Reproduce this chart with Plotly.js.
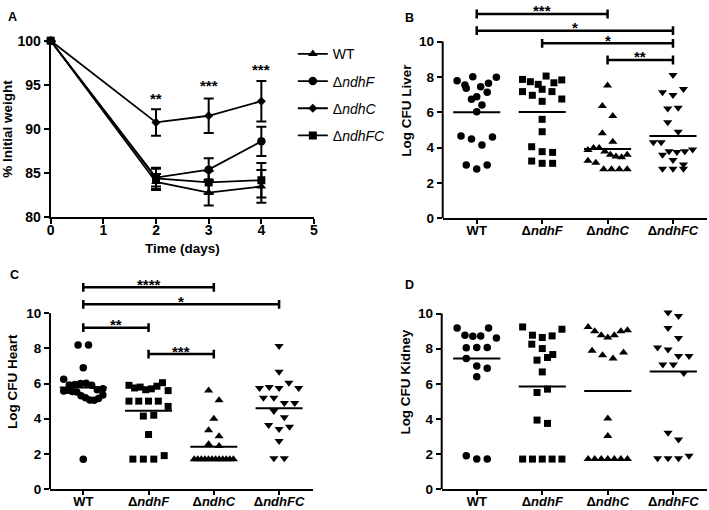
<!DOCTYPE html>
<html>
<head>
<meta charset="utf-8">
<script src="https://cdn.plot.ly/plotly-3.0.1.min.js"></script>
<style>html,body{margin:0;padding:0;background:#fff;}#chart{width:709px;height:510px;}</style>
</head>
<body>
<div id="chart"></div>
<script>
// ---------- DATA ----------
const categories = ['WT', 'ΔndhF', 'ΔndhC', 'ΔndhFC'];

// Panel A: % initial weight over time (mean ± SEM)
const days = [0, 2, 3, 4];
const weightWT = [100, 84.0, 82.8, 83.5];
const errWT = [0, 0.9, 1.45, 1.85];
const weightF = [100, 84.5, 85.4, 88.6];
const errF = [0, 1.0, 1.3, 1.65];
const weightC = [100, 90.75, 91.5, 93.15];
const errC = [0, 1.5, 1.95, 2.3];
const weightFC = [100, 84.4, 83.95, 84.2];
const errFC = [0, 1.2, 1.3, 1.95];
const starsA = ['**', '***', '***'];
const starsAday = [2, 3, 4];
const starsAy = [93.93, 95.36, 97.17];

// Panel B: Log CFU Liver
const liverWT = [7.79, 7.54, 7.36, 8.01, 7.45, 7.64, 7.98, 6.88, 6.73, 7.13, 6.41, 6.03, 4.66, 4.49, 4.15, 4.6, 3.02, 2.79, 3.02];
const liverF = [7.86, 7.73, 7.58, 8.05, 7.67, 7.83, 7.17, 6.96, 7.3, 7.17, 6.62, 6.75, 5.6, 4.9, 4.05, 3.77, 3.73, 3.24, 3.11, 3.11];
const liverC = [7.51, 6.36, 5.79, 4.81, 4.33, 3.87, 3.98, 3.98, 3.78, 3.59, 3.5, 3.46, 3.59, 3.25, 3.15, 2.77, 2.77, 2.77, 2.77];
const liverFC = [8.11, 7.13, 6.98, 7.32, 6.22, 6.26, 5.43, 4.9, 4.3, 4.3, 3.8, 3.75, 3.6, 3.8, 3.9, 3.3, 3.05, 2.8, 2.8, 2.8];
const liverMeans = [6.0, 6.02, 3.92, 4.66];
const liverBrackets = [[0, 2, 11.56, '***'], [0, 3, 10.62, '*'], [1, 3, 9.9, '*'], [2, 3, 8.96, '**']];

// Panel C: Log CFU Heart
const heartWT = [8.2, 8.2, 6.9, 6.24, 5.92, 5.95, 6.0, 6.02, 5.9, 5.58, 5.65, 5.7, 5.62, 5.55, 5.52, 5.31, 5.2, 5.07, 5.05, 5.15, 5.35, 1.7];
const heartF = [5.9, 5.75, 5.8, 5.65, 5.7, 5.85, 6.05, 5.6, 5.0, 5.0, 5.0, 5.0, 4.7, 4.15, 4.2, 3.1, 1.7, 1.7, 1.7, 1.9];
const heartC = [5.6, 5.05, 4.0, 3.35, 3.0, 2.55, 2.45, 1.7, 1.7, 1.7, 1.7, 1.7, 1.7, 1.7, 1.7, 1.7, 1.7, 1.7, 1.7];
const heartFC = [8.14, 6.68, 5.75, 5.8, 5.75, 6.05, 5.75, 5.2, 5.2, 4.9, 4.9, 4.44, 4.08, 3.64, 3.41, 3.55, 2.73, 1.75, 1.75];
const heartMeans = [5.77, 4.45, 2.41, 4.6];
const heartBrackets = [[0, 2, 11.48, '****'], [0, 3, 10.51, '*'], [0, 1, 9.18, '**'], [1, 2, 7.68, '***']];

// Panel D: Log CFU Kidney
const kidneyWT = [9.18, 8.77, 8.71, 8.73, 9.18, 8.61, 8.05, 8.07, 8.07, 7.44, 7.02, 6.89, 6.4, 1.91, 1.72, 1.72];
const kidneyF = [9.24, 8.77, 8.64, 8.73, 9.11, 8.26, 8.01, 7.67, 7.35, 7.5, 6.68, 5.51, 5.7, 3.94, 3.75, 1.72, 1.72, 1.72, 1.72, 1.72];
const kidneyC = [9.24, 9.0, 8.77, 8.64, 8.77, 9.0, 9.05, 7.88, 7.63, 7.44, 7.78, 4.03, 3.03, 1.72, 1.72, 1.72, 1.72, 1.72, 1.72, 1.72];
const kidneyFC = [10.06, 9.86, 9.18, 8.61, 8.07, 7.95, 7.59, 7.59, 7.1, 7.1, 6.62, 3.22, 2.84, 1.76, 1.76, 1.76, 1.91];
const kidneyMeans = [7.45, 5.85, 5.6, 6.7];

// ---------- STYLE ----------
const FONT = 'Liberation Sans, Arial, Helvetica, sans-serif';
const symbols = ['circle', 'square', 'triangle-up', 'triangle-down'];
const symSizes = [7.5, 7, 8, 8];

function tickLabel(c) {
  if (c.startsWith('Δ')) return '<b>Δ<i>' + c.slice(1) + '</i></b>';
  return '<b>' + c + '</b>';
}
function legendLabel(c) {
  if (c.startsWith('Δ')) return 'Δ<i>' + c.slice(1) + '</i>';
  return c;
}

// Prism-like column scatter: group close values into rows, centre each row
function swarm(vals, binH, dx, maxW) {
  const idx = vals.map((v, i) => i).sort((a, b) => vals[b] - vals[a]);
  const off = new Array(vals.length).fill(0);
  let i = 0;
  while (i < idx.length) {
    const start = vals[idx[i]];
    const row = [];
    while (i < idx.length && start - vals[idx[i]] <= binH) { row.push(idx[i]); i++; }
    row.sort((a, b) => a - b);
    const n = row.length;
    const sp = n > 1 ? Math.min(dx, maxW / (n - 1)) : 0;
    row.forEach((k, j) => { off[k] = (j - (n - 1) / 2) * sp; });
  }
  return off;
}

const traces = [];
const annotations = [];
const shapes = [];
const starFont = {family: FONT, size: 15, color: '#000'};

// Panel A
const aSeries = [
  [weightWT, errWT, 'triangle-up', 8.5],
  [weightF, errF, 'circle', 8.5],
  [weightC, errC, 'diamond', 7],
  [weightFC, errFC, 'square', 8]
];
aSeries.forEach((s, k) => {
  traces.push({
    type: 'scatter', mode: 'lines+markers', x: days, y: s[0],
    name: legendLabel(categories[k]), legendgroup: 'g' + k,
    xaxis: 'x', yaxis: 'y', cliponaxis: false,
    line: {color: '#000', width: 1.8},
    marker: {symbol: s[2], size: s[3], color: '#000'},
    error_y: {type: 'data', array: s[1], visible: true, color: '#000', thickness: 2, width: 5}
  });
});
starsA.forEach((t, k) => {
  annotations.push({xref: 'x', yref: 'y', x: starsAday[k], y: starsAy[k], text: '<b>' + t + '</b>',
    showarrow: false, yanchor: 'middle', yshift: -4, font: starFont});
});

// Dot panels
function dotPanel(groups, means, brackets, xa, ya) {
  groups.forEach((vals, k) => {
    const off = swarm(vals, 0.6, 0.16, 0.6);
    traces.push({
      type: 'scatter', mode: 'markers', x: vals.map((v, i) => k + off[i]), y: vals,
      xaxis: xa, yaxis: ya, showlegend: false, cliponaxis: false,
      marker: {symbol: symbols[k], size: symSizes[k], color: '#000'}
    });
  });
  const mx = [], my = [];
  means.forEach((m, k) => { mx.push(k - 0.36, k + 0.36, null); my.push(m, m, null); });
  traces.push({type: 'scatter', mode: 'lines', x: mx, y: my, xaxis: xa, yaxis: ya, showlegend: false,
    line: {color: '#000', width: 2}});
  if (brackets) {
    const bx = [], by = [];
    brackets.forEach(b => {
      bx.push(b[0], b[0], null, b[0], b[1], null, b[1], b[1], null);
      by.push(b[2] - 0.25, b[2] + 0.25, null, b[2], b[2], null, b[2] - 0.25, b[2] + 0.25, null);
      annotations.push({xref: xa, yref: ya, x: (b[0] + b[1]) / 2, y: b[2] + 0.4, text: '<b>' + b[3] + '</b>',
        showarrow: false, yanchor: 'middle', yshift: -4, font: starFont});
    });
    traces.push({type: 'scatter', mode: 'lines', x: bx, y: by, xaxis: xa, yaxis: ya, showlegend: false,
      line: {color: '#000', width: 2.5}});
  }
  // y axis line from 0 to 10 only
  shapes.push({type: 'line', xref: xa + ' domain', yref: ya, x0: 0, x1: 0, y0: 0, y1: 10,
    line: {color: '#000', width: 2}});
}
dotPanel([liverWT, liverF, liverC, liverFC], liverMeans, liverBrackets, 'x2', 'y2');
dotPanel([heartWT, heartF, heartC, heartFC], heartMeans, heartBrackets, 'x3', 'y3');
dotPanel([kidneyWT, kidneyF, kidneyC, kidneyFC], kidneyMeans, null, 'x4', 'y4');

// panel letters
[['A', 0.008, 0.985], ['B', 0.568, 0.982], ['C', 0.011, 0.478], ['D', 0.568, 0.458]].forEach(p => {
  annotations.push({xref: 'paper', yref: 'paper', x: p[1], y: p[2], text: '<b>' + p[0] + '</b>', showarrow: false,
    xanchor: 'left', yanchor: 'top', font: {family: FONT, size: 12.5, color: '#000'}});
});

const numFont = {family: FONT, size: 13.5, color: '#000', weight: 'bold'};
const titleFont = {family: FONT, size: 13.5, color: '#000', weight: 'bold'};
const axBase = {showgrid: false, zeroline: false, ticks: 'outside', ticklen: 5, tickwidth: 2, tickcolor: '#000',
  linecolor: '#000', linewidth: 2, automargin: false};
const catTicks = {tickvals: [0, 1, 2, 3], ticktext: categories.map(tickLabel), ticklabelstandoff: -5,
  tickfont: {family: FONT, size: 13, color: '#000', weight: 'bold'}};
const yCat = Object.assign({}, axBase, {showline: false, range: [0, 12.2], tickvals: [0, 2, 4, 6, 8, 10], tickfont: numFont});

const layout = {
  width: 709, height: 510, paper_bgcolor: '#fff', plot_bgcolor: 'rgba(0,0,0,0)',
  margin: {l: 0, r: 0, t: 0, b: 0}, font: {family: FONT, color: '#000'},
  showlegend: true,
  legend: {x: 0.413, y: 0.925, xanchor: 'left', yanchor: 'top', traceorder: 'grouped', tracegroupgap: 6,
    font: {family: FONT, size: 14, color: '#000'}, bgcolor: 'rgba(0,0,0,0)'},
  xaxis: Object.assign({}, axBase, {domain: [0.0715, 0.4429], anchor: 'y', range: [0, 5], tickvals: [0, 1, 2, 3, 4, 5],
    showline: true, tickfont: Object.assign({}, numFont, {size: 14}), ticklabelstandoff: -6,
    title: {text: '<b>Time (days)</b>', font: titleFont, standoff: 6}}),
  yaxis: Object.assign({}, axBase, {domain: [0.5739, 0.9202], anchor: 'x', range: [80, 100], tickvals: [80, 85, 90, 95, 100],
    showline: true, tickfont: Object.assign({}, numFont, {size: 14}),
    title: {text: '<b>% Initial weight</b>', font: titleFont, standoff: 6}}),
  xaxis2: Object.assign({}, axBase, catTicks, {domain: [0.6244, 0.9972], anchor: 'y2', range: [-0.52, 3.52], showline: true, ticklen: 4}),
  yaxis2: Object.assign({}, yCat, {domain: [0.572, 0.99465], anchor: 'x2', title: {text: '<b>Log CFU Liver</b>', font: titleFont, standoff: 4}}),
  xaxis3: Object.assign({}, axBase, catTicks, {domain: [0.0705, 0.4415], anchor: 'y3', range: [-0.51, 3.52], showline: true, ticklen: 4}),
  yaxis3: Object.assign({}, yCat, {domain: [0.04118, 0.4615], anchor: 'x3', title: {text: '<b>Log CFU Heart</b>', font: titleFont, standoff: 5}}),
  xaxis4: Object.assign({}, axBase, catTicks, {domain: [0.623, 0.9968], anchor: 'y4', range: [-0.535, 3.51], showline: true, ticklen: 4}),
  yaxis4: Object.assign({}, yCat, {domain: [0.0406, 0.4609], anchor: 'x4', title: {text: '<b>Log CFU Kidney</b>', font: titleFont, standoff: 4}}),
  annotations: annotations,
  shapes: shapes
};

Plotly.newPlot('chart', traces, layout, {displayModeBar: false, staticPlot: true});
</script>
</body>
</html>
